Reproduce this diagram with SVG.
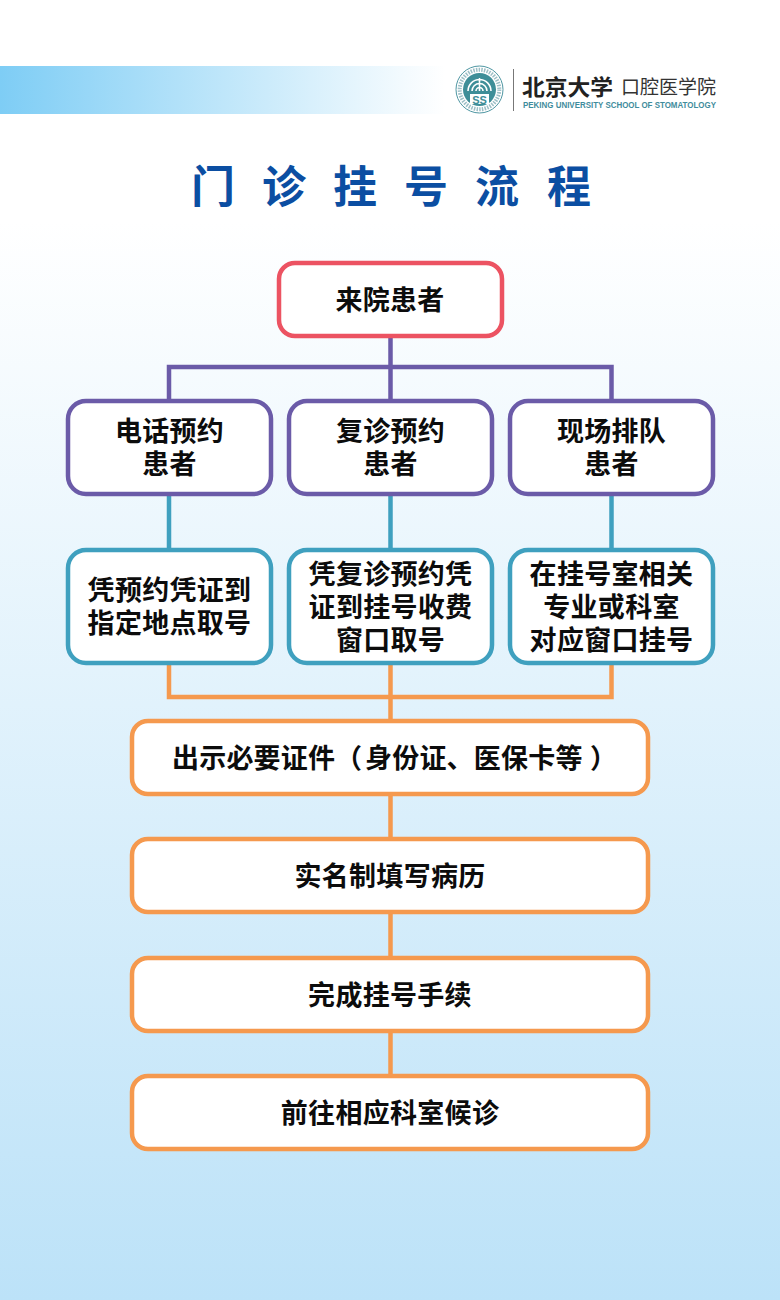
<svg xmlns="http://www.w3.org/2000/svg" width="780" height="1300" viewBox="0 0 780 1300">
<style>
text{font-family:"Noto Sans CJK SC","Noto Sans",sans-serif}
.t{font-size:27px;font-weight:700;fill:#0c0c0c;text-anchor:middle;letter-spacing:.3px}
.n{fill:#fff;stroke-width:4.5px}
.r{stroke:#EC5362}.p{stroke:#6B5BA8}.b{stroke:#3FA0BF}.o{stroke:#F5994E}
.c{fill:none;stroke-width:4.5px}
</style>
<defs>
<linearGradient id="bg" x1="0" y1="0" x2="0" y2="1"><stop offset="0" stop-color="#fff"/><stop offset=".17" stop-color="#fff"/><stop offset="1" stop-color="#BCE2F8"/></linearGradient>
<linearGradient id="band" x1="0" y1="0" x2="1" y2="0"><stop offset="0" stop-color="#7ECDF5"/><stop offset="1" stop-color="#fff"/></linearGradient>
</defs>
<rect width="780" height="1300" fill="url(#bg)"/>
<rect y="66" width="445" height="48" fill="url(#band)"/>
<g id="logo">
<circle cx="479.500" cy="89.500" r="23.500" fill="#fff" stroke="#4E96A2" stroke-width="1"/>
<circle cx="479.500" cy="89.500" r="19.800" fill="none" stroke="#9DBFC6" stroke-width="4" stroke-dasharray="1.500 1.200"/>
<circle cx="479.500" cy="89.500" r="16.500" fill="#3E8E98"/>
<path d="M468 91a11.500 11.500 0 0 1 23 0M472 91a7.500 7.500 0 0 1 15 0M476 91a3.500 3.500 0 0 1 7 0M479.500 78V91" fill="none" stroke="#fff" stroke-width="1.600"/>
<rect x="470" y="94" width="19" height="10" fill="#fff"/>
<text x="479.500" y="103.500" font-size="11" font-weight="700" fill="#3E8E98" text-anchor="middle" style="font-family:'Liberation Sans',sans-serif">SS</text>
<path d="M513.500 69V111" stroke="#777" stroke-width="1"/>
<text><tspan x="522" y="95" font-size="22" fill="#222" font-weight="700" textLength="91" lengthAdjust="spacingAndGlyphs">北京大学</tspan><tspan x="621" y="94" font-size="19" fill="#333" font-weight="400">口腔医学院</tspan><tspan x="523" y="108" font-size="8.300" font-weight="700" fill="#3F8C9C" textLength="193" lengthAdjust="spacingAndGlyphs" style="font-family:'Liberation Sans',sans-serif">PEKING UNIVERSITY SCHOOL OF STOMATOLOGY</tspan></text>
</g>
<g id="title"><text y="203" x="191 262 333 404 475 547" font-size="44" font-weight="700" fill="#0B4EA2">门诊挂号流程</text></g>
<g id="connectors">
<path class="c p" d="M390.500 336V400M169 400V367H611.500V400"/>
<path class="c b" d="M169 495V549M390.500 495V549M611.500 495V549"/>
<path class="c o" d="M169 664V697H611.500V664M390.500 664V720M390.500 795V838M390.500 913V957M390.500 1032V1075"/>
</g>
<g id="n1"><rect class="n r" x="279" y="263" width="223" height="73" rx="16"/><text class="t" x="390" y="310">来院患者</text></g>
<g id="n2"><rect class="n p" x="68" y="401" width="203" height="93" rx="18"/><text class="t"><tspan x="169.500" y="441">电话预约</tspan><tspan x="169.500" y="474">患者</tspan></text></g>
<g id="n3"><rect class="n p" x="289" y="401" width="203" height="93" rx="18"/><text class="t"><tspan x="390.500" y="441">复诊预约</tspan><tspan x="390.500" y="474">患者</tspan></text></g>
<g id="n4"><rect class="n p" x="510" y="401" width="203" height="93" rx="18"/><text class="t"><tspan x="611.500" y="441">现场排队</tspan><tspan x="611.500" y="474">患者</tspan></text></g>
<g id="n5"><rect class="n b" x="68" y="550" width="203" height="113" rx="18"/><text class="t"><tspan x="169.500" y="600">凭预约凭证到</tspan><tspan x="169.500" y="633">指定地点取号</tspan></text></g>
<g id="n6"><rect class="n b" x="289" y="550" width="203" height="113" rx="18"/><text class="t"><tspan x="390.500" y="584">凭复诊预约凭</tspan><tspan x="390.500" y="617">证到挂号收费</tspan><tspan x="390.500" y="650">窗口取号</tspan></text></g>
<g id="n7"><rect class="n b" x="510" y="550" width="203" height="113" rx="18"/><text class="t"><tspan x="611.500" y="584">在挂号室相关</tspan><tspan x="611.500" y="617">专业或科室</tspan><tspan x="611.500" y="650">对应窗口挂号</tspan></text></g>
<g id="n8"><rect class="n o" x="132" y="721" width="516" height="73" rx="16"/><text y="768" font-size="27" font-weight="700" fill="#0c0c0c" x="172 199.200 226.400 253.600 280.800 308 335 365 392.200 419.400 446.600 473.800 501 528.200 555.400 590">出示必要证件（身份证、医保卡等）</text></g>
<g id="n9"><rect class="n o" x="132" y="839" width="516" height="73" rx="16"/><text class="t" x="390" y="886">实名制填写病历</text></g>
<g id="n10"><rect class="n o" x="132" y="958" width="516" height="73" rx="16"/><text class="t" x="390" y="1005">完成挂号手续</text></g>
<g id="n11"><rect class="n o" x="132" y="1076" width="516" height="73" rx="16"/><text class="t" x="390" y="1123">前往相应科室候诊</text></g>
</svg>
